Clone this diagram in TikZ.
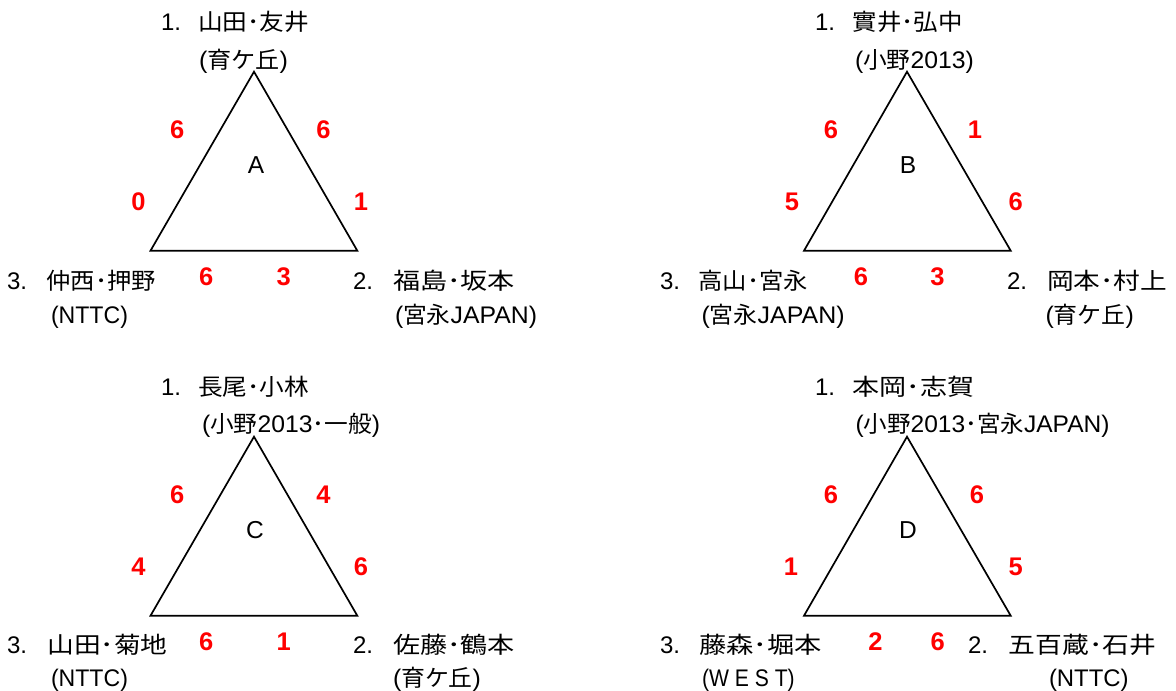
\documentclass[tikz,border=0pt]{standalone}
\usepackage{fontspec}
\usepackage{graphicx}
\setmainfont{Liberation Sans}
\newfontfamily\jp{Noto Sans CJK JP}
\newcommand\J[1]{{\jp\fontsize{23}{27}\selectfont #1}}
\newcommand\fitw[2]{\resizebox{#1pt}{\height}{#2}}
\tikzset{
 tri/.style={line width=1.7pt, line join=miter},
 lbl/.style={anchor=base west, inner sep=0pt, outer sep=0pt, font=\fontsize{24}{28}\selectfont},
 score/.style={anchor=base, inner sep=0pt, outer sep=0pt, text=red, font=\bfseries\fontsize{25.5}{29}\selectfont},
 grp/.style={anchor=base, inner sep=0pt, outer sep=0pt, font=\fontsize{24.5}{28}\selectfont},
}
\begin{document}
\begin{tikzpicture}[x=1pt,y=-1pt]
\useasboundingbox (0,0) rectangle (1176,691);

% ---------- A ----------
\coordinate (A1) at (254,71.7);
\coordinate (A2) at (357.3,250.7);
\coordinate (A3) at (150.5,250.7);
\draw[tri] (A1) -- (A2) -- (A3) -- cycle;
\node[grp] (Aname) at (256,173) {A};
\node[score] (As13) at (177.3,138) {6};
\node[score] (As12) at (323.5,138) {6};
\node[score] (As31) at (138.4,210) {0};
\node[score] (As21) at (361,210) {1};
\node[score] (As32) at (206.3,285) {6};
\node[score] (As23) at (283.7,285) {3};
\node[lbl] (A1n) at (161,30) {1.};
\node[lbl] (A1p) at (198,30) {\fitw{111}{\J{山田･友井}}};
\node[lbl] (A1t) at (199,68) {\fitw{89}{(\J{育ケ丘})}};
\node[lbl] (A3n) at (7,289) {3.};
\node[lbl] (A3p) at (46.5,289) {\fitw{109.4}{\J{仲西･押野}}};
\node[lbl] (A3t) at (51,323) {\fitw{77}{(NTTC)}};
\node[lbl] (A2n) at (353,289) {2.};
\node[lbl] (A2p) at (393,289) {\fitw{122}{\J{福島･坂本}}};
\node[lbl] (A2t) at (395,323) {\fitw{142}{(\J{宮永}JAPAN)}};

% ---------- B ----------
\coordinate (B1) at (907,71.7);
\coordinate (B2) at (1010.7,250.7);
\coordinate (B3) at (804,250.7);
\draw[tri] (B1) -- (B2) -- (B3) -- cycle;
\node[grp] (Bname) at (908,173) {B};
\node[score] (Bs13) at (831,138) {6};
\node[score] (Bs12) at (975,138) {1};
\node[score] (Bs31) at (792,210) {5};
\node[score] (Bs21) at (1015.6,210) {6};
\node[score] (Bs32) at (861,285) {6};
\node[score] (Bs23) at (937.5,285) {3};
\node[lbl] (B1n) at (815,30) {1.};
\node[lbl] (B1p) at (852.6,30) {\fitw{110}{\J{實井･弘中}}};
\node[lbl] (B1t) at (855,68) {\fitw{119}{(\J{小野}2013)}};
\node[lbl] (B3n) at (660,289) {3.};
\node[lbl] (B3p) at (698.6,289) {\fitw{109.4}{\J{高山･宮永}}};
\node[lbl] (B3t) at (701.6,323) {\fitw{143}{(\J{宮永}JAPAN)}};
\node[lbl] (B2n) at (1007,289) {2.};
\node[lbl] (B2p) at (1047,289) {\fitw{120}{\J{岡本･村上}}};
\node[lbl] (B2t) at (1045.5,323) {\fitw{88.5}{(\J{育ケ丘})}};

% ---------- C ----------
\coordinate (C1) at (254,436.7);
\coordinate (C2) at (357.3,615.7);
\coordinate (C3) at (150.5,615.7);
\draw[tri] (C1) -- (C2) -- (C3) -- cycle;
\node[grp] (Cname) at (255,538) {C};
\node[score] (Cs13) at (177.3,503) {6};
\node[score] (Cs12) at (323.5,503) {4};
\node[score] (Cs31) at (138.4,575) {4};
\node[score] (Cs21) at (361,575) {6};
\node[score] (Cs32) at (206.3,650) {6};
\node[score] (Cs23) at (283.7,650) {1};
\node[lbl] (C1n) at (161,395) {1.};
\node[lbl] (C1p) at (198,395) {\fitw{111}{\J{長尾･小林}}};
\node[lbl] (C1t) at (202,432) {\fitw{178}{(\J{小野}2013\J{･一般})}};
\node[lbl] (C3n) at (7,653) {3.};
\node[lbl] (C3p) at (47.4,653) {\fitw{120.3}{\J{山田･菊地}}};
\node[lbl] (C3t) at (51,686) {\fitw{77}{(NTTC)}};
\node[lbl] (C2n) at (353,653) {2.};
\node[lbl] (C2p) at (393,653) {\fitw{122}{\J{佐藤･鶴本}}};
\node[lbl] (C2t) at (393,686) {\fitw{88}{(\J{育ケ丘})}};

% ---------- D ----------
\coordinate (D1) at (907,436.7);
\coordinate (D2) at (1010.7,615.7);
\coordinate (D3) at (804,615.7);
\draw[tri] (D1) -- (D2) -- (D3) -- cycle;
\node[grp] (Dname) at (908,538) {D};
\node[score] (Ds13) at (831,503) {6};
\node[score] (Ds12) at (977,503) {6};
\node[score] (Ds31) at (791,575) {1};
\node[score] (Ds21) at (1015.6,575) {5};
\node[score] (Ds32) at (875.5,650) {2};
\node[score] (Ds23) at (937.7,650) {6};
\node[lbl] (D1n) at (815,395) {1.};
\node[lbl] (D1p) at (852.6,395) {\fitw{121.8}{\J{本岡･志賀}}};
\node[lbl] (D1t) at (855.5,432) {\fitw{254}{(\J{小野}2013\J{･宮永}JAPAN)}};
\node[lbl] (D3n) at (660,653) {3.};
\node[lbl] (D3p) at (699,653) {\fitw{122.7}{\J{藤森･堀本}}};
\node[lbl] (D3t) at (702,686) {\fitw{92.7}{(W E S T)}};
\node[lbl] (D2n) at (968,653) {2.};
\node[lbl] (D2p) at (1008.6,653) {\fitw{147.4}{\J{五百蔵･石井}}};
\node[lbl] (D2t) at (1049,686) {\fitw{79.7}{(NTTC)}};
\end{tikzpicture}
\end{document}
